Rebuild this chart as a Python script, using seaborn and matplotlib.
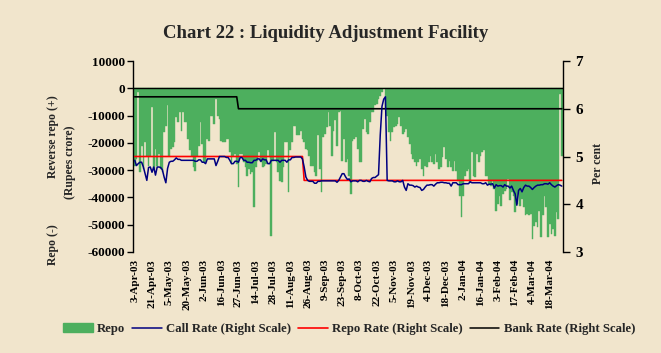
import numpy as np
import pandas as pd
import matplotlib
matplotlib.use("Agg")
import matplotlib.pyplot as plt
import seaborn as sns
from matplotlib.patches import Patch
from matplotlib.lines import Line2D

# ---------------- data ----------------
tick_labels = ["3-Apr-03", "21-Apr-03", "5-May-03", "20-May-03", "2-Jun-03", "16-Jun-03",
               "27-Jun-03", "14-Jul-03", "28-Jul-03", "11-Aug-03", "26-Aug-03", "9-Sep-03",
               "23-Sep-03", "8-Oct-03", "22-Oct-03", "5-Nov-03", "19-Nov-03", "4-Dec-03",
               "18-Dec-03", "2-Jan-04", "16-Jan-04", "3-Feb-04", "17-Feb-04", "4-Mar-04",
               "18-Mar-04"]

# LAF repo (-) / reverse repo (+), Rupees crore, one value per business day
repo = [
    -28300, -25900, -1500, -30800, -21000, -29500, -19800, -24700, -28300, -24700,
    -7000, -29500, -22200, -28300, -24100, -29500, -30800, -16100, -13700, -6300,
    -24700, -22200, -21600, -19800, -10600, -12500, -8800, -15500, -8800, -12500,
    -12500, -18600, -22800, -24700, -28900, -30200, -24700, -21000, -12500, -20400,
    -27100, -27100, -18600, -19200, -10000, -10000, -13100, -3900, -10000, -11200,
    -19200, -19800, -19800, -18600, -18600, -23400, -27700, -24700, -24100, -27700,
    -36300, -24100, -24100, -27100, -28900, -32300, -29500, -31400, -30800, -43600,
    -28900, -26500, -23400, -27100, -28900, -28300, -27700, -22800, -25300, -54000,
    -26500, -16100, -27100, -30800, -33800, -34400, -28900, -19800, -19800, -38100,
    -22800, -19800, -13700, -13700, -17300, -17300, -15500, -18600, -19800, -22200,
    -22800, -24700, -28300, -28300, -30800, -32000, -17300, -29500, -38100, -17900,
    -16700, -14300, -8800, -13700, -24700, -15500, -11800, -21000, -8800, -8200,
    -26500, -18600, -27100, -25900, -32000, -38700, -19200, -18600, -17900, -22200,
    -27100, -27100, -14900, -11200, -16100, -16700, -12500, -8800, -8800, -6300,
    -5700, -3900, -2700, -1500, 0, -7600, -10000, -16100, -19200, -16100,
    -14300, -13700, -13100, -10600, -13700, -16700, -16100, -14900, -17900, -20400,
    -24100, -25900, -27100, -28300, -27100, -25900, -29500, -32000, -28300, -28900,
    -27100, -24700, -27100, -27700, -24100, -27100, -29500, -28900, -25300, -21600,
    -25900, -28900, -26500, -28900, -30200, -26500, -30200, -33800, -39300, -47300,
    -39300, -32000, -30200, -29500, -34400, -23400, -32000, -32600, -24100, -27100,
    -24700, -23400, -22800, -32000, -32000, -35000, -35700, -33800, -36900, -44800,
    -42400, -39300, -43000, -38700, -37500, -36900, -33200, -41100, -38100, -39300,
    -45400, -42400, -38700, -43000, -40500, -43600, -46600, -46000, -46600, -46000,
    -55200, -50300, -49100, -50900, -44800, -54600, -46600, -39300, -43600, -54600,
    -49700, -53400, -51500, -54000, -45400, -47900, -2100, -24700,
]

# Call rate, per cent (right scale)
call_rate = [
    4.92, 4.81, 4.85, 4.88, 4.88, 4.78, 4.64, 4.50, 4.77, 4.78,
    4.67, 4.78, 4.61, 4.78, 4.78, 4.77, 4.72, 4.57, 4.45, 4.75,
    4.88, 4.90, 4.90, 4.93, 4.97, 4.94, 4.94, 4.92, 4.92, 4.92,
    4.92, 4.92, 4.92, 4.92, 4.92, 4.90, 4.90, 4.93, 4.93, 4.88,
    4.88, 4.85, 4.95, 4.95, 4.95, 4.95, 4.95, 4.81, 4.90, 5.00,
    5.00, 5.00, 5.00, 4.98, 4.98, 4.92, 4.85, 4.85, 4.90, 4.90,
    4.88, 4.98, 4.98, 4.92, 4.92, 4.88, 4.88, 4.87, 4.87, 4.92,
    4.92, 4.95, 4.95, 4.90, 4.95, 4.93, 4.93, 4.85, 4.85, 4.92,
    4.92, 4.92, 4.92, 4.92, 4.88, 4.92, 4.92, 4.92, 4.88, 4.93,
    4.93, 4.98, 4.98, 4.99, 4.99, 4.99, 4.99, 4.95, 4.78, 4.57,
    4.50, 4.48, 4.48, 4.48, 4.44, 4.44, 4.48, 4.48, 4.49, 4.49,
    4.49, 4.49, 4.49, 4.49, 4.49, 4.49, 4.49, 4.46, 4.50, 4.57,
    4.64, 4.64, 4.57, 4.52, 4.53, 4.47, 4.49, 4.49, 4.49, 4.47,
    4.50, 4.50, 4.48, 4.48, 4.50, 4.48, 4.47, 4.54, 4.56, 4.56,
    4.59, 4.62, 5.45, 6.05, 6.20, 6.25, 4.50, 4.49, 4.49, 4.49,
    4.47, 4.47, 4.49, 4.47, 4.47, 4.50, 4.36, 4.29, 4.43, 4.40,
    4.40, 4.39, 4.36, 4.38, 4.36, 4.35, 4.29, 4.31, 4.36, 4.40,
    4.40, 4.41, 4.41, 4.38, 4.42, 4.45, 4.45, 4.46, 4.46, 4.45,
    4.45, 4.44, 4.44, 4.38, 4.45, 4.45, 4.45, 4.41, 4.41, 4.41,
    4.43, 4.43, 4.43, 4.43, 4.47, 4.45, 4.45, 4.45, 4.45, 4.45,
    4.45, 4.43, 4.43, 4.45, 4.40, 4.42, 4.42, 4.43, 4.34, 4.41,
    4.38, 4.39, 4.39, 4.36, 4.41, 4.38, 4.38, 4.34, 4.38, 4.29,
    4.22, 3.98, 4.29, 4.33, 4.26, 4.35, 4.40, 4.38, 4.38, 4.35,
    4.31, 4.35, 4.38, 4.40, 4.40, 4.41, 4.41, 4.43, 4.43, 4.42,
    4.45, 4.41, 4.38, 4.36, 4.39, 4.41, 4.40, 4.38,
]

N = len(repo)
# Repo rate: 5.0 % until the 25-Aug-03 cut, then 4.5 %
repo_rate = [5.0] * 98 + [4.5] * (N - 98)
# Bank rate: 6.25 % then 6.0 %
bank_rate = [6.25] * 60 + [6.0] * (N - 60)

# ---------------- styling ----------------
BG = "#F1E5CC"
GREEN = "#4DAF5E"
NAVY = "#000080"
RED = "#FF0000"

sns.set_theme(style="ticks")
plt.rcParams['font.family'] = ['Liberation Serif', 'DejaVu Serif']
plt.rcParams['font.weight'] = 'bold'
plt.rcParams['axes.unicode_minus'] = False

df = pd.DataFrame({"idx": np.arange(N), "repo": repo, "call": call_rate,
                   "reporate": repo_rate, "bank": bank_rate})

fig = plt.figure(figsize=(6.61, 3.53), dpi=100, facecolor=BG)
ax = fig.add_axes([133 / 661, 1 - 252 / 353, 430 / 661, 191 / 353])
ax.set_facecolor(BG)

sns.barplot(data=df, x="idx", y="repo", color=GREEN, saturation=1, width=1.0,
            linewidth=0.3, edgecolor=GREEN, errorbar=None, ax=ax)
ax.axhline(0, color="black", lw=1.0, zorder=3)

XL = (-1.0, N - 0.3)
ax.set_xlim(*XL)
ax.set_ylim(-60000, 10000)
yt = list(range(-60000, 10001, 10000))
ax.set_yticks(yt)
ax.set_yticklabels([str(v) for v in yt], fontsize=9.5, fontweight="bold")
ax.set_xticks(list(range(0, N, 10)))
ax.set_xticklabels(tick_labels, rotation=90, fontsize=8, fontweight="bold")
ax.tick_params(axis="x", length=0, pad=5, colors="black")
ax.tick_params(axis="y", direction="out", length=4, width=1, color="black",
               labelcolor="black", pad=2, left=True)
ax.set_xlabel("")
ax.set_ylabel("")
for s in ["top", "right", "bottom"]:
    ax.spines[s].set_visible(False)
ax.spines["left"].set_color("black")
ax.spines["left"].set_linewidth(1)

ax2 = ax.twinx()
sns.lineplot(data=df, x="idx", y="bank", ax=ax2, color="black", lw=1.2)
sns.lineplot(data=df, x="idx", y="reporate", ax=ax2, color=RED, lw=1.2)
sns.lineplot(data=df, x="idx", y="call", ax=ax2, color=NAVY, lw=1.1)
ax2.set_xlim(*XL)
ax2.set_ylim(3, 7)
ax2.set_yticks([3, 4, 5, 6, 7])
ax2.set_yticklabels(["3", "4", "5", "6", "7"], fontsize=11, fontweight="bold")
ax2.tick_params(axis="y", direction="out", length=5, width=1, color="black",
                labelcolor="black", pad=4, right=True)
ax2.set_xlabel("")
ax2.set_ylabel("")
for s in ["top", "left", "bottom"]:
    ax2.spines[s].set_visible(False)
ax2.spines["right"].set_color("black")
ax2.spines["right"].set_linewidth(1)

# ---------------- texts ----------------
fig.text(326 / 661, 1 - 33 / 353, "Chart 22 : Liquidity Adjustment Facility",
         ha="center", va="center", fontsize=13.5, fontweight="bold")
fig.text(53 / 661, 1 - 137 / 353, "Reverse repo (+)", rotation=90,
         ha="center", va="center", fontsize=8.5, fontweight="bold")
fig.text(70 / 661, 1 - 162 / 353, "(Rupees crore)", rotation=90,
         ha="center", va="center", fontsize=8.5, fontweight="bold")
fig.text(53 / 661, 1 - 245 / 353, "Repo (-)", rotation=90,
         ha="center", va="center", fontsize=8.5, fontweight="bold")
fig.text(598 / 661, 1 - 163 / 353, "Per cent", rotation=90,
         ha="center", va="center", fontsize=8.5, fontweight="bold")

handles = [Patch(facecolor=GREEN, edgecolor=GREEN),
           Line2D([], [], color=NAVY, lw=1.1),
           Line2D([], [], color=RED, lw=1.2),
           Line2D([], [], color="black", lw=1.1)]
labels = ["Repo", "Call Rate (Right Scale)", "Repo Rate (Right Scale)",
          "Bank Rate (Right Scale)"]
fig.legend(handles, labels, loc="center", bbox_to_anchor=(349 / 661, 1 - 329 / 353),
           ncol=4, frameon=False, fontsize=9.2, handlelength=2.3,
           columnspacing=0.55, handletextpad=0.35)

fig.savefig("out.png", dpi=100, facecolor=BG)
